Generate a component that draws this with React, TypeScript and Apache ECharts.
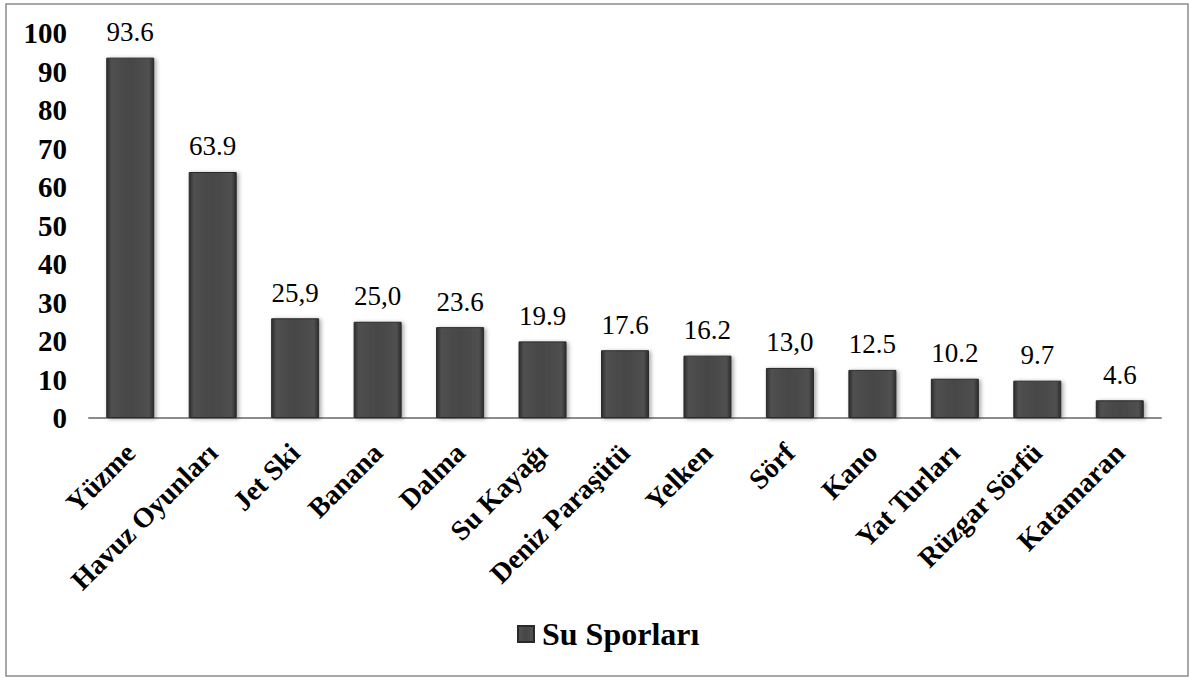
import React, { useEffect, useRef } from "react";
import * as echarts from "echarts";

const categories = [
  "Yüzme",
  "Havuz Oyunları",
  "Jet Ski",
  "Banana",
  "Dalma",
  "Su Kayağı",
  "Deniz Paraşütü",
  "Yelken",
  "Sörf",
  "Kano",
  "Yat Turları",
  "Rüzgar Sörfü",
  "Katamaran",
];
const values = [93.6, 63.9, 25.9, 25.0, 23.6, 19.9, 17.6, 16.2, 13.0, 12.5, 10.2, 9.7, 4.6];
const valueLabels = ["93.6", "63.9", "25,9", "25,0", "23.6", "19.9", "17.6", "16.2", "13,0", "12.5", "10.2", "9.7", "4.6"];
const seriesName = "Su Sporları";

const FONT = "Liberation Serif, Times New Roman, serif";

export default function App() {
  const ref = useRef<HTMLDivElement>(null);
  useEffect(() => {
    document.body.style.margin = "0";
    const chart = echarts.init(ref.current!, null, { renderer: "svg" });
    const barColor = new echarts.graphic.LinearGradient(0, 0, 1, 0, [
      { offset: 0, color: "#2c2c2c" },
      { offset: 0.1, color: "#505050" },
      { offset: 0.5, color: "#464646" },
      { offset: 0.9, color: "#505050" },
      { offset: 1, color: "#2c2c2c" },
    ]);
    chart.setOption({
      animation: false,
      backgroundColor: "#ffffff",
      graphic: [
        {
          type: "rect",
          shape: { x: 6, y: 4, width: 1182, height: 672 },
          style: { fill: "none", stroke: "#8c8c8c", lineWidth: 1.5 },
          silent: true,
        },
      ],
      grid: { left: 89, right: 30, top: 33, bottom: 263, containLabel: false },
      legend: {
        show: true,
        bottom: 26,
        left: 512,
        itemWidth: 16,
        itemHeight: 16,
        itemGap: 4,
        icon: "rect",
        textStyle: { fontFamily: FONT, fontWeight: "bold", fontSize: 32, color: "#000", padding: [0, 0, 0, 3] },
        data: [seriesName],
      },
      xAxis: {
        type: "category",
        data: categories,
        axisLine: { show: true, lineStyle: { color: "#8c8c8c", width: 2 } },
        axisTick: { show: false },
        axisLabel: {
          interval: 0,
          rotate: 45,
          margin: 30,
          fontFamily: FONT,
          fontWeight: "bold",
          fontSize: 28,
          color: "#000",
        },
      },
      yAxis: {
        type: "value",
        min: 0,
        max: 100,
        interval: 10,
        axisLine: { show: false },
        axisTick: { show: false },
        splitLine: { show: false },
        axisLabel: {
          margin: 22,
          fontFamily: FONT,
          fontWeight: "bold",
          fontSize: 29,
          color: "#000",
        },
      },
      series: [
        {
          name: seriesName,
          type: "bar",
          data: values,
          barWidth: 48,
          itemStyle: {
            color: barColor,
            borderColor: "#2a2a2a",
            borderWidth: 1,
            shadowBlur: 4,
            shadowColor: "rgba(0,0,0,0.35)",
            shadowOffsetX: 2,
            shadowOffsetY: 1,
          },
          label: {
            show: true,
            position: "top",
            distance: 12,
            fontFamily: FONT,
            fontSize: 27,
            color: "#000",
            formatter: (p: any) => valueLabels[p.dataIndex],
          },
        },
      ],
    });
    return () => chart.dispose();
  }, []);
  return <div ref={ref} style={{ width: 1191, height: 681 }} />;
}
